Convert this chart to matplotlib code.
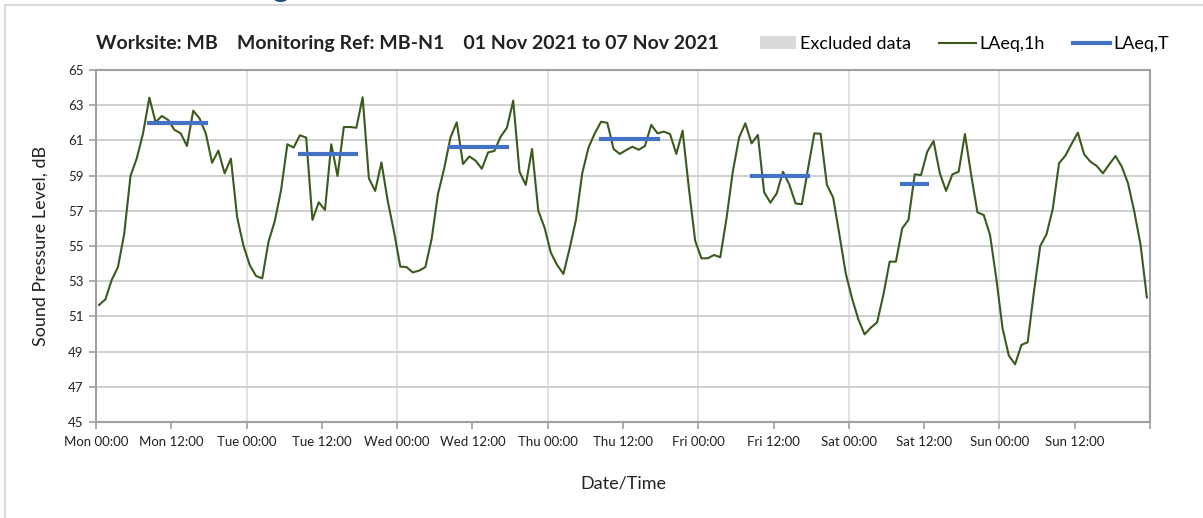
import numpy as np
import pandas as pd
import matplotlib
matplotlib.use("Agg")
import matplotlib.pyplot as plt
import matplotlib.dates as mdates
from matplotlib.lines import Line2D
from matplotlib.patches import Patch, Rectangle

plt.rcParams['font.family'] = ['Lato', 'DejaVu Sans']

# hourly LAeq,1h values, Mon 01 Nov 2021 00:00 -> Sun 07 Nov 2021 23:00
laeq_1h = [
    51.65, 51.97, 53.07, 53.8, 55.7, 58.98, 59.98, 61.4, 63.43, 62.03, 62.39, 62.16,
    61.6, 61.4, 60.68, 62.69, 62.25, 61.4, 59.73, 60.42, 59.13, 59.96, 56.63, 55.02,
    53.92, 53.3, 53.16, 55.25, 56.42, 58.18, 60.78, 60.59, 61.29, 61.16, 56.48, 57.48,
    57.05, 60.78, 58.98, 61.76, 61.76, 61.72, 63.45, 58.84, 58.13, 59.75, 57.56, 55.81,
    53.83, 53.8, 53.5, 53.6, 53.8, 55.4, 57.94, 59.41, 61.16, 62.03, 59.66, 60.09,
    59.85, 59.39, 60.32, 60.4, 61.21, 61.72, 63.26, 59.22, 58.47, 60.51, 57.0, 56.04,
    54.62, 53.92, 53.41, 54.87, 56.48, 59.13, 60.59, 61.4, 62.06, 62.0, 60.51, 60.23,
    60.45, 60.64, 60.47, 60.68, 61.88, 61.4, 61.5, 61.36, 60.23, 61.55, 58.28, 55.3,
    54.3, 54.3, 54.49, 54.36, 56.57, 59.22, 61.16, 61.97, 60.83, 61.31, 58.05, 57.46,
    57.99, 59.22, 58.5, 57.42, 57.37, 59.41, 61.4, 61.38, 58.47, 57.75, 55.63, 53.45,
    52.03, 50.85, 49.98, 50.36, 50.66, 52.22, 54.11, 54.11, 56.0, 56.48, 59.07, 59.03,
    60.36, 60.96, 59.13, 58.13, 59.07, 59.22, 61.36, 59.03, 56.91, 56.76, 55.63, 53.16,
    50.32, 48.77, 48.28, 49.38, 49.53, 52.4, 55.0, 55.66, 57.1, 59.7, 60.13, 60.8,
    61.44, 60.21, 59.79, 59.55, 59.13, 59.64, 60.11, 59.51, 58.56, 56.95, 55.06, 52.08,
]

# LAeq,T daytime periods
period_start = ['2021-11-01 08:30', '2021-11-02 08:30', '2021-11-03 08:30',
                '2021-11-04 08:30', '2021-11-05 08:30', '2021-11-06 08:30']
period_end = ['2021-11-01 17:30', '2021-11-02 17:30', '2021-11-03 17:30',
              '2021-11-04 17:30', '2021-11-05 17:30', '2021-11-06 12:30']
laeq_t = [62.0, 60.25, 60.64, 61.1, 58.97, 58.5]

times = pd.date_range('2021-11-01 00:30', periods=len(laeq_1h), freq='h')

green = '#3A5A1E'
blue = '#4472C4'

fig = plt.figure(figsize=(12.03, 5.18), dpi=100)
ax = fig.add_axes([96 / 1203, 1 - 422 / 518, (1150 - 96) / 1203, (422 - 70) / 518])

ax.plot(times, laeq_1h, color=green, lw=1.5, zorder=3)
for s, e, v in zip(period_start, period_end, laeq_t):
    ax.plot([pd.Timestamp(s), pd.Timestamp(e)], [v, v], color=blue, lw=3,
            solid_capstyle='projecting', zorder=4)

ax.set_ylim(45, 65)
ax.set_yticks(np.arange(45, 66, 2))
ax.set_xlim(pd.Timestamp('2021-11-01 00:00'), pd.Timestamp('2021-11-08 00:00'))

ax.xaxis.set_major_locator(mdates.HourLocator(byhour=[0, 12]))
ax.xaxis.set_minor_locator(mdates.DayLocator())
ax.xaxis.remove_overlapping_locs = False
ticks = ax.get_xticks()
ax.set_xticks(ticks)
labels = [mdates.num2date(t).strftime('%a %H:%M') for t in ticks]
labels[-1] = ''
ax.set_xticklabels(labels)

ax.grid(axis='y', color='#D0D0D0', lw=1.4, zorder=0)
ax.grid(axis='x', which='minor', color='#DCDCDC', lw=1.2, zorder=0)
ax.tick_params(axis='x', which='major', length=5, width=1.3, color='#A6A6A6',
               labelsize=9.5, colors='#222222', pad=5)
ax.tick_params(axis='x', which='minor', length=0)
ax.tick_params(axis='y', length=5, width=1.3, color='#A6A6A6', labelsize=9.5,
               colors='#222222', pad=4)
for sp in ax.spines.values():
    sp.set_color('#A0A0A0')
    sp.set_linewidth(1.5)

ax.set_ylabel('Sound Pressure Level, dB', fontsize=13, color='#222222', labelpad=14)
ax.set_xlabel('Date/Time', fontsize=13, color='#222222', labelpad=20)

fig.text(96 / 1203, 1 - 43 / 518,
         'Worksite: MB    Monitoring Ref: MB-N1    01 Nov 2021 to 07 Nov 2021',
         fontsize=14, fontweight='bold', color='#222222', va='center')

handles = [Patch(facecolor='#D9D9D9', edgecolor='none'),
           Line2D([], [], color=green, lw=1.5),
           Line2D([], [], color=blue, lw=3)]
fig.legend(handles, ['Excluded data', 'LAeq,1h', 'LAeq,T'], ncol=3,
           loc='center right', bbox_to_anchor=(1176 / 1203, 1 - 44 / 518),
           frameon=False, fontsize=13, handlelength=2.0, handletextpad=0.2,
           columnspacing=1.6, borderaxespad=0)

# outer chart frame and clipped heading above
fig.patches.append(Rectangle((5 / 1203, -0.1), 2, 1.1 - 5 / 518, transform=fig.transFigure,
                             fill=False, edgecolor='#DADADA', lw=1.5))
fig.text(272 / 1203, 1 + 3 / 518, 'g', fontsize=22, fontweight='bold', color='#1F4E79',
         va='baseline')

fig.savefig('out.png', dpi=100)
